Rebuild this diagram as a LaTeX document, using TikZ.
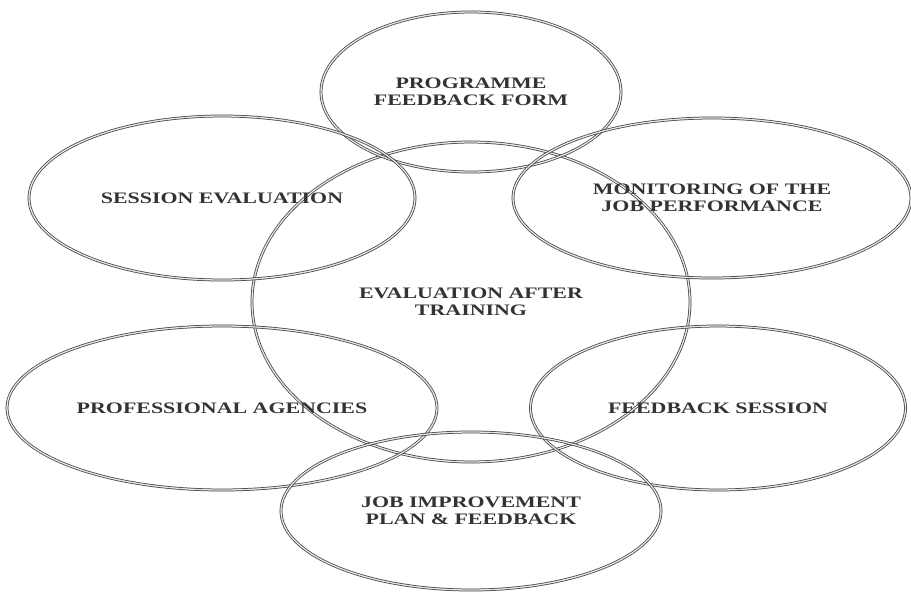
\documentclass[tikz,border=0pt]{standalone}
\usepackage{fontspec}
\setmainfont[FakeStretch=1.37]{Liberation Serif}
\usetikzlibrary{shapes.geometric, positioning}

\begin{document}
\begin{tikzpicture}[x=1pt, y=-1pt, on grid,
    bubble/.style={draw=gray!50!black, double=gray!20, line width=0.75pt,
      double distance=1.3pt, ellipse, inner sep=0pt, align=center,
      text=black!80, font=\fontsize{16}{16.7}\selectfont\bfseries}]
        \useasboundingbox (0,0) rectangle (911,592);
        \node[bubble, minimum width=438pt, minimum height=320pt] (eval) at (471,302) {EVALUATION AFTER\\TRAINING};
        \node[bubble, minimum width=300pt, minimum height=160pt, above=210pt of eval] (prog) {PROGRAMME\\FEEDBACK FORM};
        \node[bubble, minimum width=386pt, minimum height=164pt, above left=104pt and 249pt of eval] (sess) {SESSION EVALUATION};
        \node[bubble, minimum width=398pt, minimum height=160pt, above right=104pt and 241pt of eval] (mon) {MONITORING OF THE\\JOB PERFORMANCE};
        \node[bubble, minimum width=430pt, minimum height=164pt, below left=106pt and 249pt of eval] (prof) {PROFESSIONAL AGENCIES};
        \node[bubble, minimum width=375pt, minimum height=164pt, below right=106pt and 247pt of eval] (fb) {FEEDBACK SESSION};
        \node[bubble, minimum width=380pt, minimum height=158pt, below=209pt of eval] (job) {JOB IMPROVEMENT\\PLAN \& FEEDBACK};
\end{tikzpicture}
\end{document}
